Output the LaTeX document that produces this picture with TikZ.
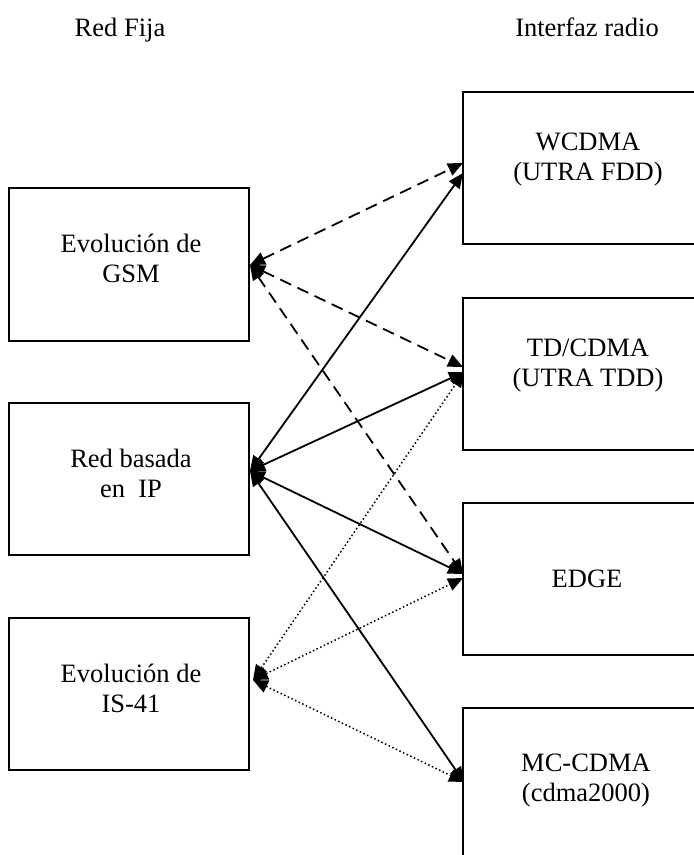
\documentclass[tikz,border=0pt]{standalone}
\usepackage{fontspec}
\setmainfont{Liberation Serif}
\usetikzlibrary{arrows.meta}
\begin{document}
\begin{tikzpicture}[x=1pt,y=-1pt,
  box/.style={draw, line width=2pt, inner sep=0pt, outer sep=0pt},
  lbox/.style={box, minimum width=239.5pt, minimum height=152.5pt},
  rbox/.style={box, minimum width=250pt, minimum height=152pt},
  lbl/.style={font=\fontsize{26.5}{30}\selectfont, align=center, inner sep=0pt},
  link/.style={line width=1.8pt, {Triangle[length=15pt,width=13pt]}-{Triangle[length=15pt,width=13pt]}},
  dashlink/.style={link, dash pattern=on 12pt off 7pt},
  dotlink/.style={link, line width=1.5pt, dash pattern=on 1.5pt off 2.5pt}]

% page area; the right-hand boxes run past its edges
\clip (0,0) rectangle (694,855);
\fill[white] (0,0) rectangle (694,855);

% column titles
\node[lbl, anchor=base] (tfix) at (120,36) {Red Fija};
\node[lbl, anchor=base] (trad) at (587,36) {Interfaz radio};

% fixed-network boxes
\node[lbox] (gsm) at (128.75,264.5) {};
\node[lbox] (ip)  at (128.75,479) {};
\node[lbox] (is)  at (128.75,694) {};
\node[lbl] (tgsm) at (131,258.5) {Evolución de\\GSM};
\node[lbl] (tip)  at (131,473.5) {Red basada\\en \ IP};
\node[lbl] (tis)  at (131,688.5) {Evolución de\\IS-41};

% radio-interface boxes
\node[rbox] (wc)   at (588,168) {};
\node[rbox] (td)   at (588,373.5) {};
\node[rbox] (edge) at (588,579) {};
\node[rbox] (mc)   at (588,784) {};
\node[lbl] (twc)   at (588,160) {WCDMA\\(UTRA FDD)};
\node[lbl] (ttd)   at (588,366) {TD/CDMA\\(UTRA TDD)};
\node[lbl] (tedge) at (587,579) {EDGE};
\node[lbl] (tmc)   at (586,781) {MC-CDMA\\(cdma2000)};

% connection points on the box edges
\coordinate (gsmE) at (250,265);
\coordinate (ipE)  at (250,471);
\coordinate (isE)  at (253,680);
\coordinate (wcA)  at (463,163);
\coordinate (wcB)  at (463,173);
\coordinate (tdA)  at (463,367);
\coordinate (tdB)  at (464,372);
\coordinate (edA)  at (463,574);
\coordinate (edB)  at (463,578);
\coordinate (mcA)  at (464,782);

% GSM evolution
\draw[dashlink] (gsmE) -- (wcA);
\draw[dashlink] (gsmE) -- (tdA);
\draw[dashlink] (gsmE) -- (edA);

% IP-based network
\draw[link] (ipE) -- (wcB);
\draw[link] (ipE) -- (tdB);
\draw[link] (ipE) -- (edA);
\draw[link] (ipE) -- (mcA);

% IS-41 evolution
\draw[dotlink] (isE) -- (tdB);
\draw[dotlink] (isE) -- (edB);
\draw[dotlink] (isE) -- (mcA);
\end{tikzpicture}
\end{document}
